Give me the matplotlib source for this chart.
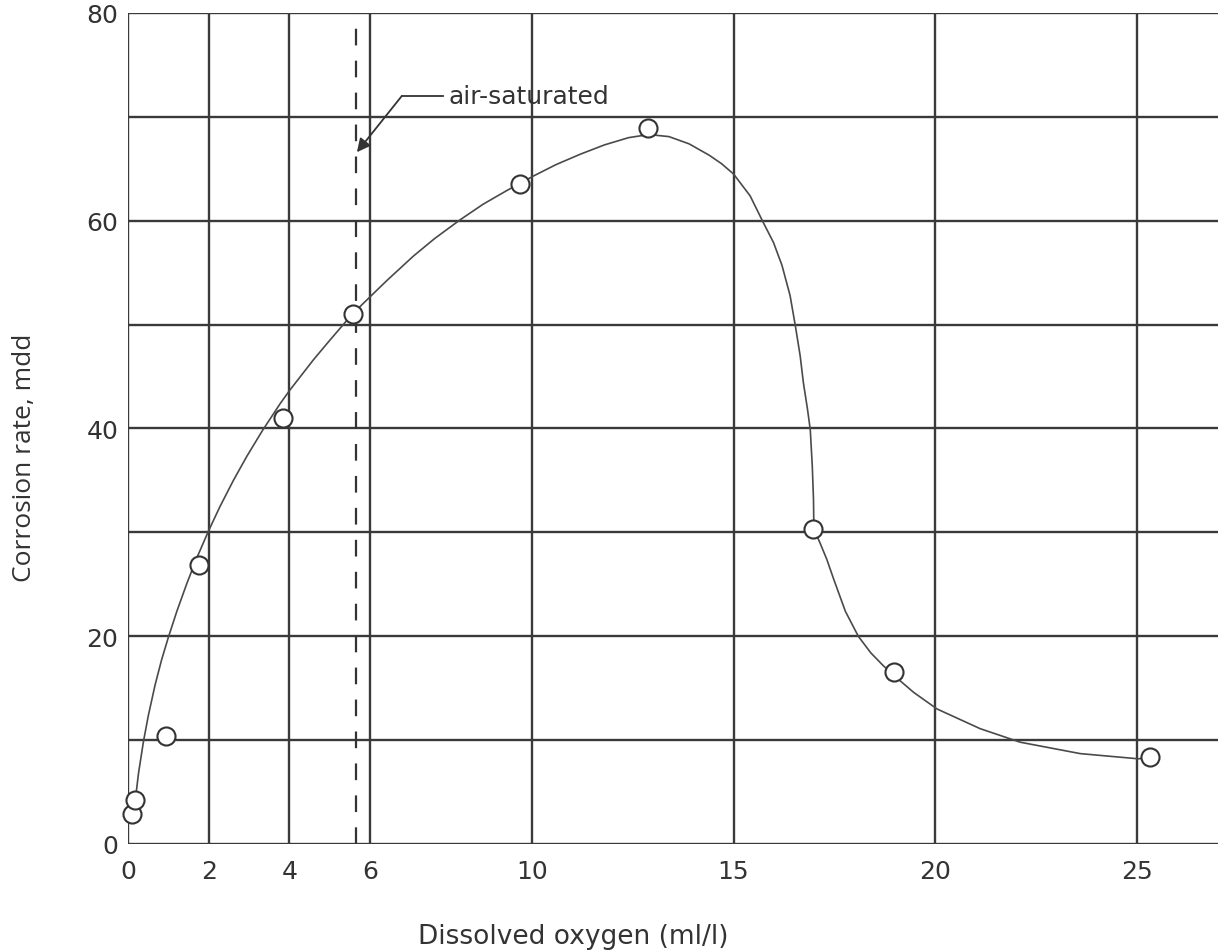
# Corrosion rate vs dissolved oxygen - recreated chart

import numpy as np
import matplotlib
matplotlib.use('Agg')
import matplotlib.pyplot as plt

oxygen = [0.1, 0.18, 0.94, 1.76, 3.83, 5.58, 9.71, 12.89, 16.98, 18.98, 25.32]
corrosion = [2.9, 4.2, 10.4, 26.9, 41.0, 51.0, 63.5, 68.9, 30.3, 16.6, 8.4]

# Hand-drawn trend curve.
curve_x = [0.18, 0.26, 0.38, 0.5, 0.67, 0.83, 1.0, 1.21, 1.45, 1.70, 1.99,
           2.28, 2.61, 2.94, 3.33, 3.77, 4.01, 4.59, 5.0, 5.42, 5.79, 6.4,
           7.07, 7.6, 8.23, 8.8, 9.38, 10.04, 10.6, 11.2, 11.8, 12.4, 12.9,
           13.4, 13.9, 14.4, 14.7, 15.0, 15.41, 15.74, 15.99, 16.2, 16.4,
           16.53, 16.65, 16.73, 16.83, 16.9, 16.95, 16.98, 16.99,
           17.14, 17.31, 17.48, 17.77, 18.09, 18.4, 18.7, 18.98, 19.46, 20.04,
           21.11, 22.1, 23.59, 25.03, 25.32]
curve_y = [4.2, 6.8, 9.8, 12.3, 15.3, 17.7, 19.9, 22.4, 25.0, 27.5, 30.1,
           32.5, 35.0, 37.3, 39.8, 42.4, 43.7, 46.6, 48.5, 50.4, 51.9, 54.2,
           56.6, 58.3, 60.1, 61.6, 62.9, 64.3, 65.4, 66.4, 67.3, 68.0, 68.3,
           68.1, 67.4, 66.3, 65.5, 64.5, 62.4, 59.8, 57.9, 55.7, 52.8,
           49.9, 47.0, 44.4, 41.9, 39.9, 36.4, 33.2, 30.3,
           29.0, 27.4, 25.5, 22.4, 20.0, 18.4, 17.2, 16.2, 14.6, 13.0,
           11.1, 9.8, 8.7, 8.2, 8.4]

x_ticks = [0, 2, 4, 6, 10, 15, 20, 25]
y_ticks = [0, 20, 40, 60, 80]
y_grid = [0, 10, 20, 30, 40, 50, 60, 70, 80]

air_saturated = 5.65

plt.rcParams['lines.scale_dashes'] = False
grid_col = '#3a3a3a'

fig = plt.figure(figsize=(12.18, 9.53), dpi=100)
ax = fig.add_axes([128 / 1218, 1 - 845 / 953, 1 - 128 / 1218, 831 / 953])

ax.set_xlim(0, 27.0)
ax.set_ylim(0, 80)

# Grid lines.
for xv in x_ticks:
    ax.axvline(xv, color=grid_col, lw=1.7, zorder=1)
for yv in y_grid:
    ax.axhline(yv, color=grid_col, lw=1.7, zorder=1)

# Air-saturated marker line.
ax.axvline(air_saturated, color='#333333', lw=1.6, dashes=(12, 11), zorder=2)

# Curve and data points.
ax.plot(curve_x, curve_y, color='#4a4a4a', lw=1.2, zorder=3)
ax.plot(oxygen, corrosion, 'o', ms=13, mfc='white', mec='#333333', mew=1.5,
        zorder=4, clip_on=False)

# Annotation with elbow leader.
ax.plot([6.78, 7.80], [72.0, 72.0], color='#333333', lw=1.3, zorder=3)
ax.annotate('', xy=(5.67, 66.6), xytext=(6.78, 72.0),
            arrowprops=dict(arrowstyle='-|>', color='#333333', lw=1.3,
                            mutation_scale=20, shrinkA=0, shrinkB=0))
ax.text(7.95, 72.0, 'air-saturated', fontsize=18, color='#333333',
        va='center', ha='left')

ax.set_xticks(x_ticks)
ax.set_yticks(y_ticks)
ax.tick_params(length=0, labelsize=18, colors='#333333')
ax.tick_params(axis='x', pad=11)
ax.tick_params(axis='y', pad=7)

for side in ['left', 'bottom', 'top', 'right']:
    ax.spines[side].set_visible(False)

fig.text(573 / 1218, 1 - 937 / 953, 'Dissolved oxygen (ml/l)', fontsize=19,
         color='#333333', ha='center', va='center')
fig.text(25 / 1218, 1 - 458 / 953, 'Corrosion rate, mdd', fontsize=19,
         family='Open Sans', color='#333333', ha='center', va='center',
         rotation=90)

plt.savefig('out.png', dpi=100)
